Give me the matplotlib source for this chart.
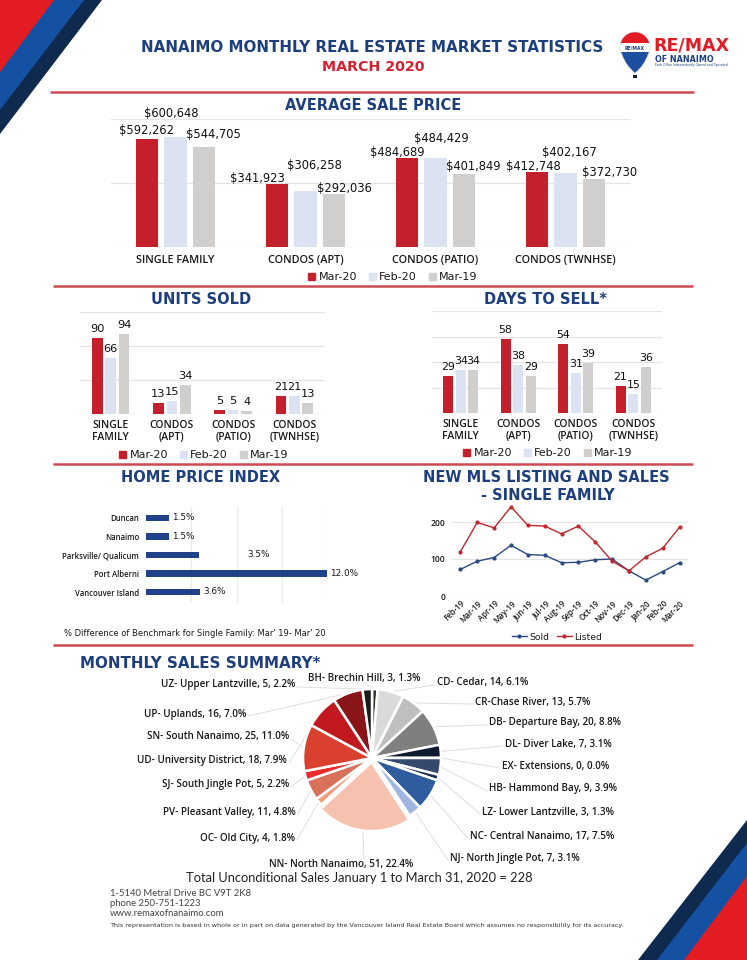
import matplotlib
matplotlib.use('Agg')
import matplotlib.pyplot as plt
import numpy as np
from matplotlib.patches import Polygon, Rectangle, PathPatch, Patch
from matplotlib.path import Path
from matplotlib.lines import Line2D

plt.rcParams['font.family'] = ['DejaVu Sans']

# ---------------- DATA ----------------
series_names = ['Mar-20', 'Feb-20', 'Mar-19']

price_categories = ['SINGLE FAMILY', 'CONDOS (APT)', 'CONDOS (PATIO)', 'CONDOS (TWNHSE)']
price_mar20 = [592262, 341923, 484689, 412748]
price_feb20 = [600648, 306258, 484429, 402167]
price_mar19 = [544705, 292036, 401849, 372730]

unit_categories = ['SINGLE\nFAMILY', 'CONDOS\n(APT)', 'CONDOS\n(PATIO)', 'CONDOS\n(TWNHSE)']
units_mar20 = [90, 13, 5, 21]
units_feb20 = [66, 15, 5, 21]
units_mar19 = [94, 34, 4, 13]

days_mar20 = [29, 58, 54, 21]
days_feb20 = [34, 38, 31, 15]
days_mar19 = [34, 29, 39, 36]

hpi_regions = ['Duncan', 'Nanaimo', 'Parksville/ Qualicum', 'Port Alberni', 'Vancouver Island']
hpi_change = [1.5, 1.5, 3.5, 12.0, 3.6]

mls_months = ['Feb-19', 'Mar-19', 'Apr-19', 'May-19', 'Jun-19', 'Jul-19', 'Aug-19',
              'Sep-19', 'Oct-19', 'Nov-19', 'Dec-19', 'Jan-20', 'Feb-20', 'Mar-20']
mls_sold = [72, 94, 104, 137, 112, 110, 90, 91, 98, 100, 68, 43, 66, 90]
mls_listed = [120, 199, 184, 241, 191, 189, 168, 189, 146, 94, 68, 106, 129, 186]

area_labels = ['BH- Brechin Hill', 'CD- Cedar', 'CR-Chase River', 'DB- Departure Bay',
               'DL- Diver Lake', 'EX- Extensions', 'HB- Hammond Bay', 'LZ- Lower Lantzville',
               'NC- Central Nanaimo', 'NJ- North Jingle Pot', 'NN- North Nanaimo', 'OC- Old City',
               'PV- Pleasant Valley', 'SJ- South Jingle Pot', 'SN- South Nanaimo',
               'UD- University District', 'UP- Uplands', 'UZ- Upper Lantzville']
area_sales = [3, 14, 13, 20, 7, 0, 9, 3, 17, 7, 51, 4, 11, 5, 25, 18, 16, 5]

# ---------------- STYLE / LAYOUT ----------------
W, H = 747, 960
NAVY = '#1d3f7e'
RED = '#c4202b'
LBLUE = '#dbe3f2'
GRAY = '#d1cece'
LINE_RED = '#cc4b52'
GRID = '#e4e4e4'
bar_colors = [RED, LBLUE, GRAY]
SEMI = dict(family=['Open Sans', 'DejaVu Sans'], fontweight='semibold')

area_colors = ['#3a3624', '#dadada', '#bfbfbf', '#7f7f7f', '#0e1a30', '#22324f', '#34496d',
               '#1e2e50', '#2e5c9e', '#9fb6e0', '#f6c1af', '#f19c7d', '#d8705a', '#ec2b2b',
               '#d9402e', '#c2191f', '#8a1518', '#1a1a1a']
area_explode = [0, 0, 0, 0, 0, 0, 0, 0, 0, 0, 0.06, 0, 0, 0, 0, 0, 0, 0]
area_label_pos = [(364, 678, 'center'), (437, 683, 'left'), (475, 702, 'left'), (489, 723, 'left'),
                  (505, 744, 'left'), (502, 766, 'left'), (489, 789, 'left'), (482, 812, 'left'),
                  (470, 836, 'left'), (450, 858, 'left'), (341, 865, 'center'), (295, 838, 'right'),
                  (296, 812, 'right'), (289, 785, 'right'), (289, 737, 'right'), (287, 761, 'right'),
                  (246, 714, 'right'), (295, 685, 'right')]

price_label_offsets = [
    [(0, 8), (-19, 5.5), (-9.5, 5.5), (-4, 5.5)],
    [(-4.5, 24), (8.5, 25), (5.5, 19.5), (3.5, 20.5)],
    [(9.5, 12.5), (10.5, 5.5), (9.5, 7.5), (15, 6)],
]

fig = plt.figure(figsize=(W / 100, H / 100), dpi=100)
fig.patch.set_facecolor('white')


def rect(x0, y0, x1, y1):
    return [x0 / W, 1 - y1 / H, (x1 - x0) / W, (y1 - y0) / H]


def ffrac(x, y):
    return (x / W, 1 - y / H)


bg = fig.add_axes([0, 0, 1, 1], zorder=0)
bg.set_xlim(0, W)
bg.set_ylim(H, 0)
bg.axis('off')

# corner stripes
for pts, col in [([(0, 0), (102, 0), (0, 134)], '#0f2a4f'),
                 ([(0, 0), (84, 0), (0, 110)], '#1451a3'),
                 ([(0, 0), (54, 0), (0, 72)], '#e31b23'),
                 ([(747, 820), (747, 960), (638, 960)], '#0f2a4f'),
                 ([(747, 843), (747, 960), (657, 960)], '#1451a3'),
                 ([(747, 876), (747, 960), (684, 960)], '#e31b23')]:
    bg.add_patch(Polygon(pts, closed=True, color=col, lw=0))

# divider lines
for y, x0, x1 in [(92, 50, 694), (286, 53, 693), (464, 53, 693), (645, 53, 693)]:
    bg.plot([x0, x1], [y, y], color=LINE_RED, lw=1.8, solid_capstyle='butt')

# header
bg.text(372, 47, 'NANAIMO MONTHLY REAL ESTATE MARKET STATISTICS', ha='center', va='center',
        fontsize=10.9, fontweight='bold', color=NAVY)
bg.text(373, 67, 'MARCH 2020', ha='center', va='center', fontsize=10.3, fontweight='bold', color='#d42030')

# logo balloon
cx, cy, r = 635, 47, 15
t = np.deg2rad(np.linspace(-30, 210, 40))
arc = [(cx + r * np.cos(a), cy - r * np.sin(a)) for a in t]
verts = arc + [(cx - 9, 66), (cx, 73), (cx + 9, 66), arc[0], arc[0]]
codes = [Path.MOVETO] + [Path.LINETO] * (len(arc) - 1) + [Path.CURVE3] * 4 + [Path.CLOSEPOLY]
balloon = PathPatch(Path(verts, codes), facecolor='none', edgecolor='none')
bg.add_patch(balloon)
for y0, y1, col in [(30, 43, '#e11b22'), (43, 52, 'white'), (52, 76, '#1c4fa0')]:
    rp = Rectangle((cx - 20, y0), 40, y1 - y0, color=col, lw=0)
    bg.add_patch(rp)
    rp.set_clip_path(balloon)
bg.add_patch(PathPatch(Path(verts, codes), facecolor='none', edgecolor='#c8c8d8', lw=0.4))
bg.text(cx, 47.5, 'RE/MAX', ha='center', va='center', fontsize=3.3, fontweight='bold', color=NAVY)
bg.add_patch(Rectangle((cx - 2, 75), 4, 3, color='#1a1a3a', lw=0))
bg.text(653, 46, 'RE/MAX', ha='left', va='center', fontsize=12.5, fontweight='bold', color='#e11b22')
bg.text(655, 59, 'OF NANAIMO', ha='left', va='center', fontsize=5.8, fontweight='bold', color=NAVY)
bg.text(655, 65, 'Each Office Independently Owned and Operated', ha='left', va='center',
        fontsize=2.2, color=NAVY)

# section titles
TITLE_KW = dict(ha='center', va='center', fontsize=10.5, fontweight='bold', color=NAVY)
bg.text(373, 105, 'AVERAGE SALE PRICE', **TITLE_KW)
bg.text(201, 300, 'UNITS SOLD', **TITLE_KW)
bg.text(545, 299, 'DAYS TO SELL*', **TITLE_KW)
bg.text(201, 477, 'HOME PRICE INDEX', **TITLE_KW)
bg.text(546, 477, 'NEW MLS LISTING AND SALES', **TITLE_KW)
bg.text(548, 495, '- SINGLE FAMILY', **TITLE_KW)
bg.text(80, 663, 'MONTHLY SALES SUMMARY*', ha='left', va='center', fontsize=10.9,
        fontweight='bold', color=NAVY)


def grouped_bars(ax, cats, series, ylim, yticks, fs, pad):
    x = np.arange(len(cats))
    offs = [-0.22, 0, 0.22]
    for s, c, o in zip(series, bar_colors, offs):
        ax.bar(x + o, s, width=0.175, color=c, zorder=3)
    ax.set_xlim(-0.5, len(cats) - 0.5)
    ax.set_ylim(*ylim)
    ax.set_yticks(yticks)
    ax.set_axisbelow(True)
    ax.yaxis.grid(True, color=GRID, lw=0.9)
    ax.tick_params(axis='y', length=0, labelleft=False)
    ax.tick_params(axis='x', length=0, pad=pad, labelsize=fs, colors='#1a1a1a')
    ax.set_xticks(x)
    ax.set_xticklabels(cats, linespacing=1.15)
    for lab in ax.get_xticklabels():
        lab.set_family(['Open Sans', 'DejaVu Sans'])
        lab.set_fontweight('semibold')
    for sp in ax.spines.values():
        sp.set_visible(False)
    ax.patch.set_alpha(0)
    return x, offs


def bar_legend(xc, yc):
    handles = [Patch(color=c) for c in bar_colors]
    fig.legend(handles, series_names, loc='center', bbox_to_anchor=ffrac(xc, yc), ncol=3,
               frameon=False, fontsize=8, handlelength=0.6, handleheight=0.6,
               handletextpad=0.3, columnspacing=1.1, labelcolor='#1a1a1a')


# ---- Average sale price ----
ax1 = fig.add_axes(rect(110.5, 119, 630.5, 247))
price_series = [price_mar20, price_feb20, price_mar19]
x, offs = grouped_bars(ax1, price_categories, price_series, (0, 700000), [0, 350000, 700000], 7.8, 6)
for j, s in enumerate(price_series):
    for i, v in enumerate(s):
        dx, dy = price_label_offsets[j][i]
        ax1.annotate('${:,}'.format(v), xy=(x[i] + offs[j], v), xytext=(dx * 0.72, dy * 0.72),
                     textcoords='offset points', ha='center', va='center', fontsize=8.3,
                     color='#111111', annotation_clip=False)
bar_legend(393, 277)

# ---- Units sold ----
ax2 = fig.add_axes(rect(80, 312, 325, 414))
unit_series = [units_mar20, units_feb20, units_mar19]
x, offs = grouped_bars(ax2, unit_categories, unit_series, (0, 120), [0, 40, 80, 120], 7.5, 4)
for j, s in enumerate(unit_series):
    for i, v in enumerate(s):
        ax2.annotate(str(v), xy=(x[i] + offs[j], v), xytext=(0, 9 * 0.72), textcoords='offset points',
                     ha='center', va='center', fontsize=8.2, color='#111111', annotation_clip=False)
bar_legend(204, 455)

# ---- Days to sell ----
ax3 = fig.add_axes(rect(432, 311, 662, 413))
day_series = [days_mar20, days_feb20, days_mar19]
x, offs = grouped_bars(ax3, unit_categories, day_series, (0, 80), [0, 20, 40, 60, 80], 7.5, 4)
for j, s in enumerate(day_series):
    for i, v in enumerate(s):
        ax3.annotate(str(v), xy=(x[i] + offs[j], v), xytext=(0, 9 * 0.72), textcoords='offset points',
                     ha='center', va='center', fontsize=7.9, color='#111111', annotation_clip=False)
bar_legend(548, 453)

# ---- Home price index ----
ax4 = fig.add_axes(rect(146, 507, 327, 602))
yy = np.arange(len(hpi_regions))
ax4.barh(yy, hpi_change, height=0.33, color='#1f4388', zorder=3)
ax4.set_xlim(0, 12)
ax4.set_ylim(4.54, -0.59)
ax4.set_xticks([3, 6, 9, 12])
ax4.set_axisbelow(True)
ax4.xaxis.grid(True, color='#ebebeb', lw=0.9)
ax4.tick_params(axis='x', length=0, labelbottom=False)
ax4.tick_params(axis='y', length=0, pad=5, labelsize=5.6, colors='#1a1a1a')
ax4.set_yticks(yy)
ax4.set_yticklabels(hpi_regions)
for lab in ax4.get_yticklabels():
    lab.set_family(['Open Sans', 'DejaVu Sans'])
    lab.set_fontweight('semibold')
for sp in ax4.spines.values():
    sp.set_visible(False)
ax4.patch.set_alpha(0)
hpi_label_dx = [3, 3, 49, 3, 3]
for i, v in enumerate(hpi_change):
    ax4.annotate('{:.1f}%'.format(v), xy=(v, i), xytext=(hpi_label_dx[i] * 0.72, 0),
                 textcoords='offset points', ha='left', va='center', fontsize=6.4,
                 color='#1a1a1a', annotation_clip=False)
bg.text(64, 634, "% Difference of Benchmark for Single Family: Mar' 19- Mar' 20", ha='left',
        va='center', fontsize=6, color='#1a1a1a')

# ---- MLS listing and sales ----
ax5 = fig.add_axes(rect(452, 503.5, 688, 596))
xm = np.arange(len(mls_months))
ax5.plot(xm, mls_sold, color='#2a4a80', lw=1.0, marker='o', ms=2, zorder=3, label='Sold')
ax5.plot(xm, mls_listed, color='#c0272d', lw=1.0, marker='o', ms=2, zorder=3, label='Listed')
ax5.set_xlim(-0.5, len(mls_months) - 0.5)
ax5.set_ylim(0, 250)
ax5.set_yticks([0, 100, 200])
ax5.set_axisbelow(True)
ax5.yaxis.grid(True, color=GRID, lw=0.9)
ax5.set_xticks(xm)
ax5.set_xticklabels(mls_months, rotation=45, ha='right', rotation_mode='anchor')
ax5.tick_params(axis='x', length=0, pad=2, labelsize=5.7, colors='#1a1a1a')
ax5.tick_params(axis='y', length=0, pad=5, labelsize=6.2, colors='#1a1a1a')
for lab in ax5.get_xticklabels() + ax5.get_yticklabels():
    lab.set_family(['Open Sans', 'DejaVu Sans'])
    lab.set_fontweight('semibold')
for sp in ax5.spines.values():
    sp.set_visible(False)
ax5.patch.set_alpha(0)
fig.legend(handles=[Line2D([], [], color='#2a4a80', lw=1, marker='o', ms=2),
                    Line2D([], [], color='#c0272d', lw=1, marker='o', ms=2)],
           labels=['Sold', 'Listed'], loc='center', bbox_to_anchor=ffrac(557, 637), ncol=2,
           frameon=False, fontsize=6.7, handlelength=1.6, handletextpad=0.3, columnspacing=0.8,
           labelcolor='#1a1a1a')

# ---- Monthly sales summary pie ----
PCX, PCY, PR = 372, 758, 69
pie_ax = fig.add_axes(rect(PCX - 100, PCY - 100, PCX + 100, PCY + 100), zorder=2)
wedges, _ = pie_ax.pie(area_sales, colors=area_colors, startangle=90, counterclock=False,
                       explode=area_explode, wedgeprops=dict(edgecolor='white', linewidth=1.8))
pie_ax.set_xlim(-1.45, 1.45)
pie_ax.set_ylim(-1.45, 1.45)
pie_ax.axis('off')

total = sum(area_sales)
for i, w in enumerate(wedges):
    lab = '{}, {}, {:.1f}%'.format(area_labels[i], area_sales[i], 100 * area_sales[i] / total)
    lx, ly, al = area_label_pos[i]
    bg.text(lx, ly, lab, ha=al, va='center', fontsize=7.1, color='#1a1a1a', **SEMI)
    mid = np.deg2rad((w.theta1 + w.theta2) / 2)
    wx, wy = w.center
    sx = PCX + PR * (wx + 1.0 * np.cos(mid))
    sy = PCY - PR * (wy + 1.0 * np.sin(mid))
    if al == 'left':
        ex, ey = lx - 2, ly + 2
    elif al == 'right':
        ex, ey = lx + 2, ly + 2
    elif ly < PCY:
        ex, ey = lx, ly + 5
    else:
        ex, ey = lx + 23, ly - 6
    bg.plot([sx, ex], [sy, ey], color='#dedede', lw=0.7, zorder=1)

bg.text(359, 878, 'Total Unconditional Sales January 1 to March 31, 2020 = {}'.format(total),
        ha='center', va='center', fontsize=9.3, color='#222222',
        family=['Lato', 'DejaVu Sans'])

# footer
for yv, txt in [(893, '1-5140 Metral Drive BC V9T 2K8'), (903, 'phone 250-751-1223'),
                (913, 'www.remaxofnanaimo.com')]:
    bg.text(110, yv, txt, ha='left', va='center', fontsize=6.8, color='#444444',
            family=['Lato', 'DejaVu Sans'])
bg.text(110, 926, 'This representation is based in whole or in part on data generated by the Vancouver '
        'Island Real Estate Board which assumes no responsibility for its accuracy.',
        ha='left', va='center', fontsize=4.6, color='#333333')

fig.savefig('out.png', dpi=100, facecolor='white')
